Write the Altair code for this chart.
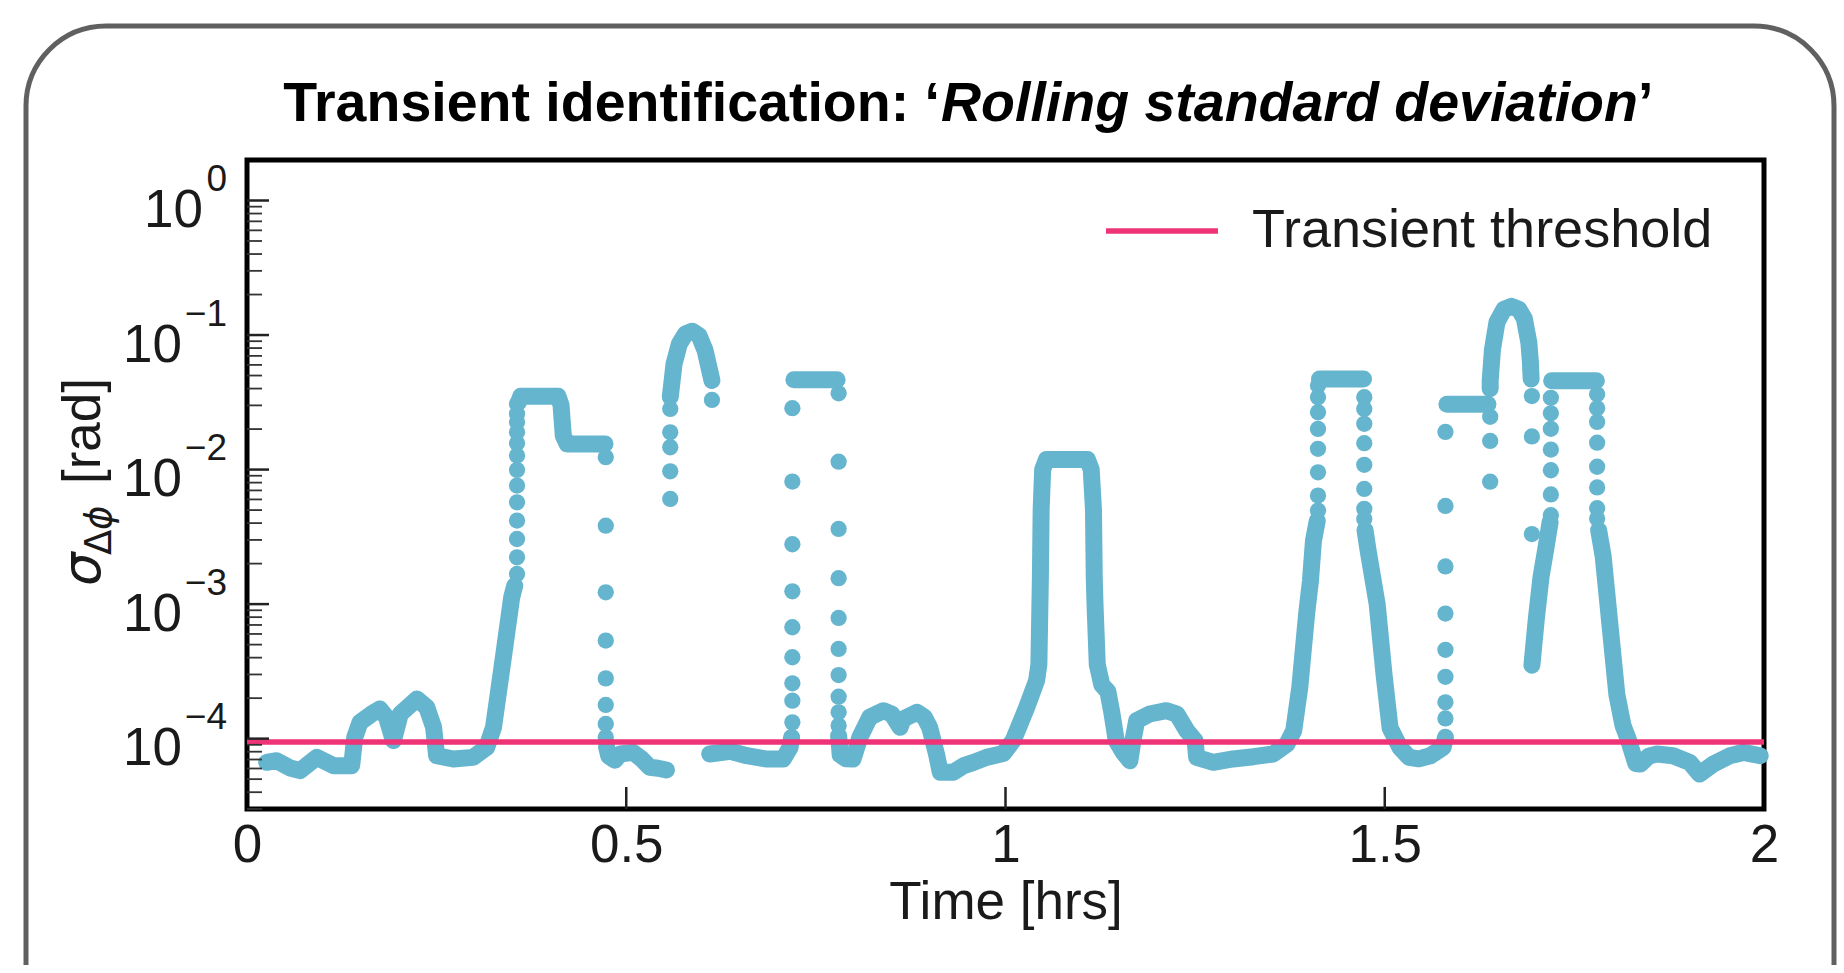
import altair as alt
import pandas as pd

# ---------------- data (time [hrs], log10 of sigma [rad]) ----------------
# continuous (densely sampled) stretches
SEG_01 = [(0.026, -4.176), (0.039, -4.164), (0.057, -4.218), (0.070, -4.238), (0.092, -4.139),
          (0.114, -4.201), (0.138, -4.201), (0.142, -3.990), (0.149, -3.879), (0.164, -3.817),
          (0.175, -3.779), (0.184, -3.841), (0.193, -4.015), (0.202, -3.817), (0.224, -3.705),
          (0.237, -3.767), (0.246, -3.916), (0.250, -4.126), (0.272, -4.151), (0.298, -4.139),
          (0.316, -4.065), (0.325, -3.916), (0.338, -3.396), (0.349, -2.949), (0.353, -2.863)]
SEG_02 = [(0.358, -1.500), (0.361, -1.455), (0.410, -1.455), (0.414, -1.520), (0.417, -1.750),
          (0.422, -1.809), (0.472, -1.809)]
SEG_03 = [(0.474, -4.060), (0.477, -4.130), (0.485, -4.160), (0.492, -4.114), (0.509, -4.102),
          (0.520, -4.150), (0.531, -4.213), (0.542, -4.220), (0.553, -4.233)]
SEG_04 = [(0.558, -1.460), (0.559, -1.413), (0.563, -1.215), (0.570, -1.066), (0.578, -0.992),
          (0.587, -0.972), (0.596, -1.004), (0.604, -1.115), (0.611, -1.289), (0.613, -1.338)]
SEG_05 = [(0.610, -4.114), (0.637, -4.094), (0.659, -4.127), (0.684, -4.151), (0.707, -4.151),
          (0.716, -4.065), (0.718, -3.990)]
SEG_06 = [(0.721, -1.333), (0.778, -1.333)]
SEG_07 = [(0.780, -3.978), (0.782, -4.120), (0.790, -4.150), (0.799, -4.151), (0.808, -3.990),
          (0.821, -3.841), (0.839, -3.792), (0.850, -3.817), (0.861, -3.916), (0.865, -3.854),
          (0.883, -3.804), (0.893, -3.840), (0.900, -3.916), (0.909, -4.114), (0.914, -4.250),
          (0.931, -4.250), (0.945, -4.200), (0.958, -4.176), (0.975, -4.139), (0.997, -4.110),
          (1.010, -4.015), (1.028, -3.767), (1.041, -3.569), (1.044, -3.450), (1.046, -2.800),
          (1.047, -2.300), (1.049, -2.000), (1.054, -1.925), (1.108, -1.925), (1.113, -2.000),
          (1.116, -2.300), (1.117, -2.800), (1.118, -3.000), (1.121, -3.450), (1.127, -3.600),
          (1.135, -3.650), (1.140, -3.800), (1.146, -4.015), (1.155, -4.100), (1.164, -4.164),
          (1.168, -4.015), (1.173, -3.866), (1.190, -3.817), (1.212, -3.792), (1.226, -3.817),
          (1.239, -3.940), (1.250, -4.015), (1.252, -4.139), (1.274, -4.176), (1.300, -4.151),
          (1.327, -4.134), (1.353, -4.114), (1.371, -4.040), (1.380, -3.940), (1.388, -3.618),
          (1.397, -3.073), (1.402, -2.830), (1.406, -2.530), (1.411, -2.380)]
SEG_08 = [(1.414, -1.326), (1.472, -1.326)]
SEG_09 = [(1.474, -2.450), (1.478, -2.600), (1.490, -3.000), (1.499, -3.520), (1.507, -3.920),
          (1.520, -4.065), (1.532, -4.139), (1.545, -4.150), (1.560, -4.127), (1.577, -4.065),
          (1.580, -3.990)]
SEG_10 = [(1.582, -1.515), (1.636, -1.515)]
SEG_11 = [(1.639, -1.400), (1.639, -1.339), (1.642, -1.108), (1.648, -0.903), (1.657, -0.810),
          (1.667, -0.787), (1.677, -0.810), (1.684, -0.877), (1.690, -1.056), (1.692, -1.200),
          (1.693, -1.326)]
SEG_12 = [(1.694, -3.454), (1.700, -3.100), (1.706, -2.800), (1.712, -2.600), (1.718, -2.390)]
SEG_13 = [(1.720, -1.339), (1.779, -1.339)]
SEG_14 = [(1.782, -2.450), (1.788, -2.646), (1.797, -3.159), (1.806, -3.672), (1.814, -3.900),
          (1.821, -4.005), (1.831, -4.185), (1.837, -4.189), (1.848, -4.130), (1.859, -4.114),
          (1.880, -4.127), (1.902, -4.176), (1.915, -4.263), (1.933, -4.189), (1.955, -4.127),
          (1.973, -4.102), (1.995, -4.127)]

# isolated samples on the steep edges: (time, [log10 sigma, ...])
DOT_01 = (0.356, [-2.776, -2.652, -2.516, -2.379, -2.243, -2.119, -2.003, -1.896, -1.804,
                  -1.723, -1.648, -1.586, -1.512])
DOT_02 = (0.473, [-1.908, -2.417, -2.912, -3.271, -3.552, -3.749, -3.891, -3.990])
DOT_03 = (0.558, [-2.218, -2.013, -1.834, -1.723, -1.549])
DOT_04 = (0.613, [-1.482])
DOT_05 = (0.719, [-3.879, -3.718, -3.589, -3.395, -3.172, -2.905, -2.555, -2.089, -1.544])
DOT_06 = (0.780, [-1.433, -1.941, -2.441, -2.807, -3.103, -3.333, -3.527, -3.688, -3.804, -3.903])
DOT_07 = (1.412, [-2.305, -2.193, -2.020, -1.846, -1.698, -1.574, -1.462, -1.375])
DOT_08 = (1.473, [-1.462, -1.549, -1.660, -1.804, -1.965, -2.144, -2.292, -2.367])
DOT_09 = (1.580, [-3.85, -3.73, -3.54, -3.34, -3.07, -2.72, -2.27, -1.72])
DOT_10 = (1.639, [-1.608, -1.787, -2.090])
DOT_11 = (1.694, [-1.454, -1.754, -2.479])
DOT_12 = (1.719, [-2.339, -2.185, -2.005, -1.851, -1.697, -1.582, -1.467])
DOT_13 = (1.780, [-1.441, -1.544, -1.646, -1.800, -1.979, -2.133, -2.287, -2.364])

THRESHOLD = 9.45e-5
THRESHOLD_LABEL = "Transient threshold"

X_TICKS = [0.5, 1.0, 1.5]
X_LABELS = [0, 0.5, 1, 1.5, 2]
Y_MAJOR = [1e0, 1e-1, 1e-2, 1e-3, 1e-4]
Y_EXPONENTS = ["0", "\u22121", "\u22122", "\u22123", "\u22124"]
Y_MINOR_MANTISSA = [2, 3, 4, 5, 6, 7, 8, 9]
Y_MINOR_DECADES = [1e-1, 1e-2, 1e-3, 1e-4]
Y_MINOR_EXTRA = [3e-5, 4e-5, 5e-5, 6e-5, 7e-5, 8e-5, 9e-5]

# ---------------- styling ----------------
BLUE = "#66B5CE"
PINK = "#EE3377"
TXT = "#1a1a1a"
FONT = "Liberation Sans"
W, H = 1517, 649

SEGMENTS = [SEG_01, SEG_02, SEG_03, SEG_04, SEG_05, SEG_06, SEG_07, SEG_08, SEG_09, SEG_10,
            SEG_11, SEG_12, SEG_13, SEG_14]
DOTS = [DOT_01, DOT_02, DOT_03, DOT_04, DOT_05, DOT_06, DOT_07, DOT_08, DOT_09, DOT_10,
        DOT_11, DOT_12, DOT_13]

seg_rows = []
for s, seg in enumerate(SEGMENTS):
    for i, (t, lg) in enumerate(seg):
        seg_rows.append({"t": t, "v": 10 ** lg, "seg": s, "i": i})
seg_df = pd.DataFrame(seg_rows)

dot_rows = []
for t, lgs in DOTS:
    for lg in lgs:
        dot_rows.append({"t": t, "v": 10 ** lg})
dot_df = pd.DataFrame(dot_rows)

minor_vals = Y_MINOR_EXTRA + [m * d for d in Y_MINOR_DECADES for m in Y_MINOR_MANTISSA]

X_SCALE = alt.Scale(domain=[0, 2], nice=False, zero=False)
Y_SCALE = alt.Scale(type="log", domain=[3e-5, 2.0], nice=False)

X_AXIS = alt.Axis(values=X_LABELS, format="~g", labelFontSize=53, labelFont=FONT,
                  labelColor=TXT, labelPadding=10, ticks=False, tickSize=0, domain=False,
                  grid=False, labelFlush=False, labelOverlap=False,
                  titleFontSize=53, titleFont=FONT, titleFontWeight="normal", titleColor=TXT,
                  titlePadding=4)
X_ENC = alt.X("t:Q", scale=X_SCALE, axis=X_AXIS, title="Time [hrs]")
Y_ENC = alt.Y("v:Q", scale=Y_SCALE, axis=None)

one = pd.DataFrame({"k": [0]})

frame = alt.Chart(one).mark_rect(fillOpacity=0, stroke="#606060", strokeWidth=5,
                                 cornerRadius=80).encode(
    x=alt.value(26 - 247), x2=alt.value(1834 - 247), y=alt.value(26 - 160), y2=alt.value(1000))

lines = alt.Chart(seg_df).mark_line(color=BLUE, strokeWidth=17, strokeCap="round",
                                    strokeJoin="round").encode(
    x=X_ENC, y=Y_ENC, detail="seg:N", order="i:Q")

dots = alt.Chart(dot_df).mark_circle(color=BLUE, size=265, opacity=1).encode(x=X_ENC, y=Y_ENC)

thr_df = pd.DataFrame({"v": [THRESHOLD], "name": [THRESHOLD_LABEL]})
thr = alt.Chart(thr_df).mark_rule(strokeWidth=5.5).encode(
    y=Y_ENC,
    color=alt.Color("name:N", scale=alt.Scale(domain=[THRESHOLD_LABEL], range=[PINK]),
                    legend=alt.Legend(title=None, orient="none", legendX=856, legendY=12,
                                      symbolType="stroke", symbolSize=12544,
                                      symbolStrokeWidth=5.5, labelFontSize=54,
                                      labelFont=FONT, labelColor=TXT, labelOffset=31,
                                      padding=0, labelLimit=1000)))

xt_df = pd.DataFrame({"t": X_TICKS})
xticks = alt.Chart(xt_df).mark_rule(color="#222", strokeWidth=2.5).encode(
    x=X_ENC, y=alt.value(H), y2=alt.value(H - 22))

ymaj_df = pd.DataFrame({"v": Y_MAJOR, "exp": Y_EXPONENTS})
ymin_df = pd.DataFrame({"v": minor_vals})
ymaj = alt.Chart(ymaj_df).mark_rule(color="#222", strokeWidth=2.5).encode(
    y=Y_ENC, x=alt.value(0), x2=alt.value(22))
ymin = alt.Chart(ymin_df).mark_rule(color="#333", strokeWidth=1.8).encode(
    y=Y_ENC, x=alt.value(0), x2=alt.value(15))

ten_zero = alt.Chart(ymaj_df).transform_filter("datum.exp == '0'").mark_text(
    text="10", align="right", baseline="alphabetic", dy=26.5, fontSize=53, font=FONT,
    color=TXT).encode(y=Y_ENC, x=alt.value(-44))
ten_neg = alt.Chart(ymaj_df).transform_filter("datum.exp != '0'").mark_text(
    text="10", align="right", baseline="alphabetic", dy=26.5, fontSize=53, font=FONT,
    color=TXT).encode(y=Y_ENC, x=alt.value(-65))
exps = alt.Chart(ymaj_df).mark_text(
    align="right", baseline="alphabetic", dy=-9.5, fontSize=37, font=FONT,
    color=TXT).encode(y=Y_ENC, x=alt.value(-20), text="exp:N")

# y-axis title: sigma with subscript Delta-phi, then [rad]
yt_sigma = alt.Chart(one).mark_text(text="\u03c3", angle=270, align="left", baseline="alphabetic",
                                    fontSize=53, font="DejaVu Sans", fontStyle="italic",
                                    color=TXT).encode(x=alt.value(-147), y=alt.value(426))
yt_delta = alt.Chart(one).mark_text(text="\u0394", angle=270, align="left", baseline="alphabetic",
                                    fontSize=37, font="DejaVu Sans", color=TXT).encode(
    x=alt.value(-136), y=alt.value(395))
yt_phi = alt.Chart(one).mark_text(text="\u03d5", angle=270, align="left", baseline="alphabetic",
                                  fontSize=37, font="DejaVu Sans", fontStyle="italic",
                                  color=TXT).encode(x=alt.value(-136), y=alt.value(370))
yt_rad = alt.Chart(one).mark_text(text="[rad]", angle=270, align="left", baseline="alphabetic",
                                  fontSize=53, font=FONT, color=TXT).encode(
    x=alt.value(-147), y=alt.value(324))

# title in three pieces (bold, bold italic, bold)
t1 = alt.Chart(one).mark_text(text="Transient identification: \u2018", align="right",
                              baseline="alphabetic", fontSize=55.5, font=FONT, fontWeight="bold",
                              color="black").encode(x=alt.value(693), y=alt.value(-39))
t2 = alt.Chart(one).mark_text(text="Rolling standard deviation", align="left",
                              baseline="alphabetic", fontSize=55.5, font=FONT, fontWeight="bold",
                              fontStyle="italic", color="black").encode(
    x=alt.value(694), y=alt.value(-39))
t3 = alt.Chart(one).mark_text(text="\u2019", align="left", baseline="alphabetic", fontSize=55.5,
                              font=FONT, fontWeight="bold", color="black").encode(
    x=alt.value(1391), y=alt.value(-39))

chart = alt.layer(
    frame, lines, dots, thr, xticks, ymaj, ymin, ten_zero, ten_neg, exps,
    yt_sigma, yt_delta, yt_phi, yt_rad, t1, t2, t3
).properties(
    width=W, height=H,
    autosize=alt.AutoSizeParams(type="none"),
    padding={"left": 247, "top": 160, "right": 77, "bottom": 156},
    background="white",
).configure_view(stroke="black", strokeWidth=5)

chart.save("out.html", embed_options={"renderer": "svg", "actions": False})
